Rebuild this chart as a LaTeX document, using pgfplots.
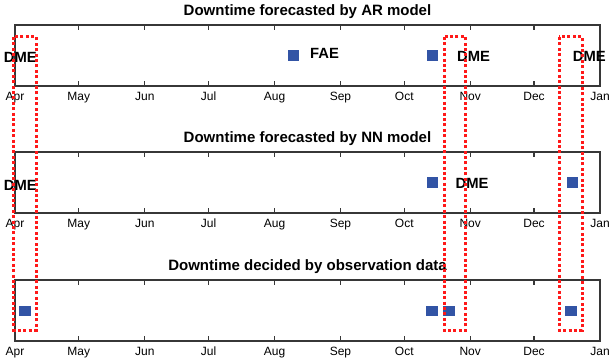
\documentclass[border=0pt]{standalone}
\usepackage{fontspec}
\setmainfont{Liberation Sans}
\usepackage{pgfplots}
\pgfplotsset{compat=1.18}
\definecolor{mblue}{RGB}{50,84,165}
\definecolor{rdot}{RGB}{255,25,25}
\definecolor{axc}{RGB}{55,55,55}
\tikzset{lbl/.style={font=\fontsize{14.8}{16}\selectfont\bfseries, inner sep=0pt}}
\pgfplotsset{
  tl/.style={
    scale only axis, width=585pt, height=61pt,
    xmin=0, xmax=275, ymin=-1, ymax=1,
    ytick=\empty,
    xtick={0,30,61,91,122,153,183,214,244,275},
    xticklabels={Apr,May,Jun,Jul,Aug,Sep,Oct,Nov,Dec,Jan},
    tick align=inside, major tick length=5pt,
    xtick pos=both, xticklabel pos=lower,
    axis line style={draw=axc, line width=1.5pt},
    every tick/.style={draw=axc, line width=1.3pt},
    tick label style={font=\fontsize{12}{13}\selectfont, black},
    xticklabel style={yshift=-2.5pt},
    title style={font=\fontsize{15}{16}\selectfont\bfseries, yshift=-3pt},
    clip=false,
  },
  mk/.style={only marks, mark=square*, mark size=5pt, color=mblue, mark options={draw=mblue, fill=mblue}},
}
\begin{document}
\begin{tikzpicture}
\begin{axis}[tl, at={(0,0)}, anchor=north west, title={Downtime forecasted by AR model}]
  \addplot[mk] coordinates {(130.7,0) (196,0)};
  \node[lbl] at (axis cs:2.5,-0.05) {DME};
  \node[lbl] at (axis cs:145.5,0.08) {FAE};
  \node[lbl] at (axis cs:215.6,-0.03) {DME};
  \node[lbl] at (axis cs:270,-0.03) {DME};
  \coordinate (r1t) at (axis cs:-0.5,0.607);
  \coordinate (r2t) at (axis cs:201.7,0.607);
  \coordinate (r3t) at (axis cs:255.8,0.607);
\end{axis}
\begin{axis}[tl, at={(0,-127pt)}, anchor=north west, title={Downtime forecasted by NN model}]
  \addplot[mk] coordinates {(196,0) (262,0)};
  \node[lbl] at (axis cs:2.5,-0.11) {DME};
  \node[lbl] at (axis cs:214.9,-0.02) {DME};
\end{axis}
\begin{axis}[tl, at={(0,-255pt)}, anchor=north west, title={Downtime decided by observation data}]
  \addplot[mk, mark options={xscale=1.1, yscale=0.88}] coordinates {(4.7,0) (196,0) (204,0) (261,0)};
  \coordinate (r1b) at (axis cs:9.9,-0.64);
  \coordinate (r2b) at (axis cs:212,-0.64);
  \coordinate (r3b) at (axis cs:266.6,-0.64);
\end{axis}
\foreach \i in {1,2,3}{
  \draw[rdot, line width=3pt, dash pattern=on 3pt off 2.4pt] (r\i t) rectangle (r\i b);
}
\pgfresetboundingbox
\useasboundingbox (-15pt,25pt) rectangle (599pt,-339pt);
\end{tikzpicture}
\end{document}
